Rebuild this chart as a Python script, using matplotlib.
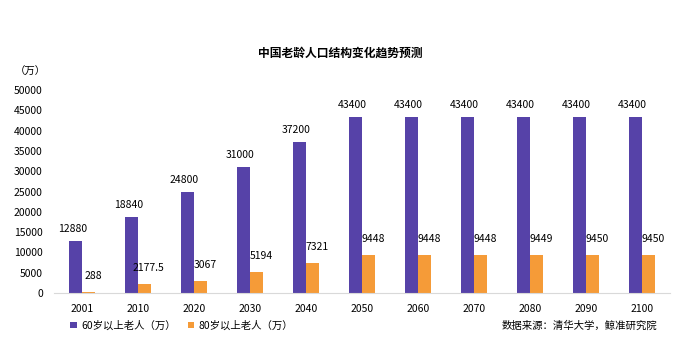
import matplotlib
matplotlib.use("Agg")
import matplotlib.pyplot as plt
import numpy as np

plt.rcParams['font.family'] = ['Noto Sans CJK SC', 'DejaVu Sans']

years = ['2001', '2010', '2020', '2030', '2040', '2050', '2060', '2070', '2080', '2090', '2100']
over60 = [12880, 18840, 24800, 31000, 37200, 43400, 43400, 43400, 43400, 43400, 43400]
over80 = [288, 2177.5, 3067, 5194, 7321, 9448, 9448, 9448, 9449, 9450, 9450]
labels60 = ['12880', '18840', '24800', '31000', '37200', '43400', '43400', '43400', '43400', '43400', '43400']
labels80 = ['288', '2177.5', '3067', '5194', '7321', '9448', '9448', '9448', '9449', '9450', '9450']

purple = '#5642A8'
orange = '#F59B38'

fig = plt.figure(figsize=(6.81, 3.57), dpi=100)
ax = fig.add_axes([0.0793, 0.179, 0.9045, 0.569])

x = np.arange(len(years))
w = 0.24
b1 = ax.bar(x - w / 2, over60, w, color=purple, label='60岁以上老人（万）')
b2 = ax.bar(x + w / 2, over80, w, color=orange, label='80岁以上老人（万）')

for rect, txt in zip(b1, labels60):
    ax.annotate(txt, (rect.get_x() + rect.get_width() / 2, rect.get_height()),
                xytext=(-2, 5), textcoords='offset points', ha='center', va='bottom', fontsize=7.5)
for rect, txt in zip(b2, labels80):
    ax.annotate(txt, (rect.get_x() + rect.get_width() / 2, rect.get_height()),
                xytext=(3, 8), textcoords='offset points', ha='center', va='bottom', fontsize=7.5)

ax.set_xlim(-0.5, len(years) - 0.5)
ax.set_ylim(0, 50000)
ax.set_yticks(np.arange(0, 50001, 5000))
ax.set_xticks(x)
ax.set_xticklabels(years)
ax.tick_params(axis='both', length=0, labelsize=7.5)
ax.tick_params(axis='y', pad=8)
ax.tick_params(axis='x', pad=8)
for s in ['top', 'right', 'left']:
    ax.spines[s].set_visible(False)
ax.spines['bottom'].set_color('#D9D9D9')

fig.text(0.5, 0.852, '中国老龄人口结构变化趋势预测', ha='center', va='center',
         fontsize=8.5, fontweight='bold')
fig.text(0.044, 0.798, '（万）', ha='center', va='center', fontsize=7.5)
fig.text(0.965, 0.088, '数据来源：清华大学，鲸准研究院', ha='right', va='center', fontsize=7.5)

ax.legend(loc='center left', bbox_to_anchor=(0.02, -0.16), ncol=2, frameon=False,
          fontsize=7.5, handlelength=0.6, handleheight=0.6, handletextpad=0.4,
          columnspacing=1.2, borderaxespad=0)

fig.savefig('out.png', dpi=100)
